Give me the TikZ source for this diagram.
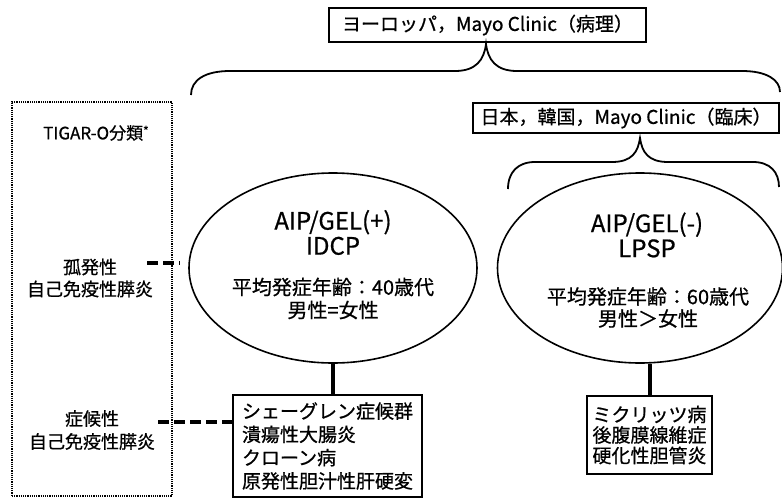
\documentclass[tikz,border=0pt]{standalone}
\usepackage{fontspec}
\setmainfont{Noto Sans CJK JP}[BoldFont={Noto Sans CJK JP}, BoldFeatures={FakeBold=0.7}]
\usetikzlibrary{shapes.geometric}
\tikzset{
  boxed/.style={draw, line width=1.5pt, inner sep=0pt, align=center},
  ell/.style={draw, ellipse, line width=1.6pt, inner sep=0pt},
  brace/.style={draw, line width=1.8pt},
  stem/.style={line width=4pt},
  dashconn/.style={line width=4pt, dash pattern=on 11pt off 5pt},
  dotbox/.style={draw, line width=1.1pt, dash pattern=on 1.2pt off 1pt},
  txt/.style={inner sep=0pt, align=center},
}
\begin{document}
\begin{tikzpicture}[x=1pt,y=-1pt, every node/.append style={font=\bfseries}]
\useasboundingbox (0,0) rectangle (782,498);

% top boxes
\node[boxed, minimum width=317pt, minimum height=34pt, font=\bfseries\fontsize{19}{22}\selectfont] (top) at (487.5,25) {ヨーロッパ，Mayo Clinic（病理）};
\node[boxed, minimum width=306pt, minimum height=30pt, font=\bfseries\fontsize{19}{22}\selectfont] (top2) at (626,118) {日本，韓国，Mayo Clinic（臨床）};

% braces
\draw[brace] (191,95) .. controls (191,80) and (205,71) .. (230,71) -- (455,71)
  .. controls (476,71) and (484,60) .. (486,44)
  .. controls (488,60) and (496,71) .. (517,71) -- (742,71)
  .. controls (767,71) and (780,80) .. (780,92);
\draw[brace] (508,189) .. controls (508,172) and (518,162) .. (535,162) -- (612,162)
  .. controls (632,162) and (638,152) .. (640,138)
  .. controls (642,152) and (648,162) .. (668,162) -- (753,162)
  .. controls (770,162) and (779,172) .. (779,187);

% dotted classification box
\node[dotbox, minimum width=160pt, minimum height=394pt, inner sep=0pt] (tig) at (92,299) {};
\node[txt, font=\bfseries\fontsize{17}{20}\selectfont] (tigt) at (96,133) {TIGAR-O分類\raisebox{4pt}{\fontsize{12}{12}\selectfont *}};
\node[txt, font=\bfseries\fontsize{18}{22}\selectfont] (lab1) at (90,278) {孤発性\\自己免疫性膵炎};
\node[txt, font=\bfseries\fontsize{18}{23}\selectfont] (lab2) at (92,430) {症候性\\自己免疫性膵炎};

% ellipses
\node[ell, minimum width=288pt, minimum height=190pt] (ell1) at (333,268) {};
\node[ell, minimum width=285pt, minimum height=190pt] (ell2) at (640,268) {};

\node[txt, font=\bfseries\fontsize{24}{25}\selectfont] (e1a) at (333,232.5) {AIP/GEL(+)\\IDCP};
\node[txt, font=\bfseries\fontsize{20}{23}\selectfont] (e1b) at (333,298.5) {平均発症年齢：40歳代\\男性=女性};
\node[txt, font=\bfseries\fontsize{24}{25}\selectfont] (e2a) at (647,235) {AIP/GEL(-)\\LPSP};
\node[txt, font=\bfseries\fontsize{20}{22}\selectfont] (e2b) at (648,307.5) {平均発症年齢：60歳代\\男性＞女性};

% lower boxes
\node[boxed, minimum width=189pt, minimum height=102pt, font=\bfseries\fontsize{19}{23.3}\selectfont, align=left] (box1) at (327.5,446)
  {シェーグレン症候群\\潰瘍性大腸炎\\クローン病\\原発性胆汁性肝硬変};
\node[boxed, minimum width=125pt, minimum height=78pt, font=\bfseries\fontsize{19}{20.5}\selectfont] (box2) at (649.5,435)
  {ミクリッツ病\\後腹膜線維症\\硬化性胆管炎};

% stems
\draw[stem] (ell1.south) -- (ell1.south |- box1.north);
\draw[stem] (box2.north |- ell2.south) -- (box2.north);

% dashed connectors
\coordinate (d1) at (147,263);
\coordinate (d2) at (158,422);
\draw[dashconn, shorten >=8pt] (d1) -- (d1 -| ell1.west);
\draw[dashconn] (d2) -- (d2 -| box1.west);
\end{tikzpicture}
\end{document}
